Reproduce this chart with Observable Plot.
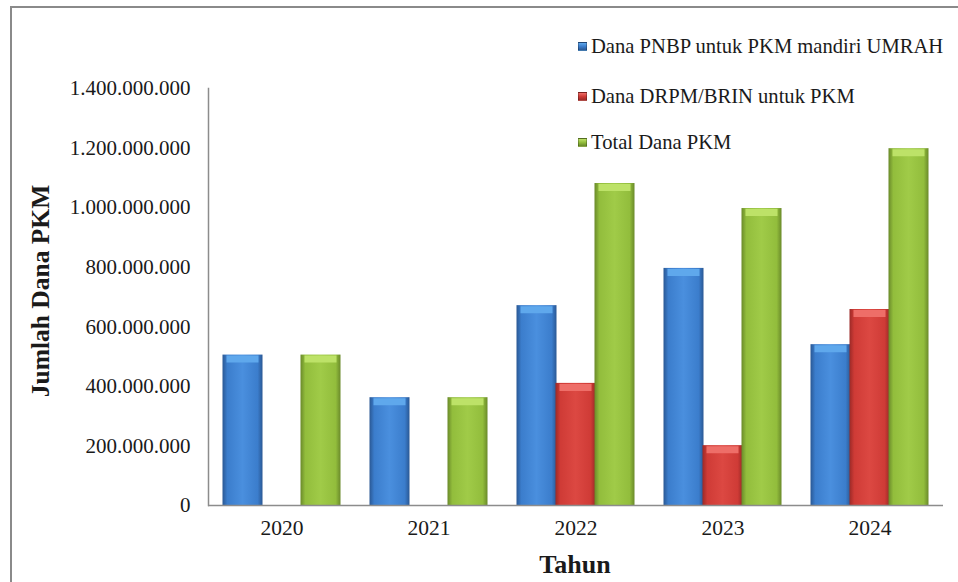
<!DOCTYPE html>
<html>
<head>
<meta charset="utf-8">
<script src="https://cdn.jsdelivr.net/npm/d3@7"></script>
<script src="https://cdn.jsdelivr.net/npm/@observablehq/plot@0.6"></script>
<style>
  html, body { margin: 0; padding: 0; background: #fff; overflow: hidden; }
  #wrap { position: relative; width: 958px; height: 582px; font-family: "Liberation Serif", "Times New Roman", serif; color: #1a1a1a; }
  #frame { position: absolute; left: 10px; top: 6px; width: 1200px; height: 1200px; border: 2px solid #8a8a8a; box-sizing: border-box; }
  #chart { position: absolute; left: 0; top: 0; }
  .legend { position: absolute; left: 578px; font-size: 20.6px; white-space: nowrap; }
  .legend .row { position: absolute; left: 0; display: flex; align-items: center; }
  .legend .sw { width: 9px; height: 9px; margin-right: 4px; border: 1px solid rgba(0,0,0,0.25); box-sizing: border-box; }
  #ytitle { position: absolute; left: 41px; top: 291px; transform: translate(-50%, -50%) rotate(-90deg); font-size: 25.5px; font-weight: bold; white-space: nowrap; }
  #xtitle { position: absolute; left: 575px; top: 565px; transform: translate(-50%, -50%); font-size: 26px; font-weight: bold; white-space: nowrap; }
</style>
</head>
<body>
<div id="wrap">
  <div id="frame"></div>
  <div id="chart"></div>
  <div class="legend" id="legend"></div>
  <div id="ytitle"></div>
  <div id="xtitle"></div>
</div>
<script>
// ---- data ----
const years = ["2020", "2021", "2022", "2023", "2024"];
const pnbp  = [505000000, 362000000, 671000000, 796000000, 540000000];
const drpm  = [0, 0, 410000000, 201000000, 658000000];
const total = [505000000, 362000000, 1081000000, 997000000, 1198000000];
const yTicks = [0, 200000000, 400000000, 600000000, 800000000, 1000000000, 1200000000, 1400000000];
const seriesNames = ["Dana PNBP untuk PKM mandiri UMRAH", "Dana DRPM/BRIN untuk PKM", "Total Dana PKM"];
const yTitle = "Jumlah Dana PKM";
const xTitle = "Tahun";

// ---- styles ----
const palette = [
  {id: "gBlue",  edge: "#2a5894", mid: "#3b7dcc", light: "#4a8fde", cap: "#5fa8ec"},
  {id: "gRed",   edge: "#9c2a27", mid: "#cf3b36", light: "#dc4842", cap: "#ee6e68"},
  {id: "gGreen", edge: "#6a8a2a", mid: "#92bd3c", light: "#a0cb48", cap: "#bde268"}
];
const offsets = [-39, 0, 39];
const barInset = 53.5;

const seriesValues = [pnbp, drpm, total];
const rows = seriesValues.map(vals =>
  years.map((y, i) => ({year: y, value: vals[i]})).filter(d => d.value > 0)
);

const fmt = d => d3.format(",")(d).replace(/,/g, ".");

const marks = [];
rows.forEach((data, s) => {
  marks.push(Plot.barY(data, {
    x: "year", y: "value", dx: offsets[s],
    insetLeft: barInset, insetRight: barInset,
    fill: `url(#${palette[s].id})`
  }));
  marks.push(Plot.tickY(data, {
    x: "year", y: "value", dx: offsets[s], dy: 4,
    insetLeft: barInset + 4, insetRight: barInset + 4,
    stroke: palette[s].cap, strokeWidth: 7
  }));
});

const chart = Plot.plot({
  width: 958,
  height: 582,
  marginLeft: 208,
  marginRight: 15,
  marginTop: 88,
  marginBottom: 77,
  style: {fontFamily: "'Liberation Serif', 'Times New Roman', serif", fontSize: "21px", color: "#1a1a1a", background: "transparent", overflow: "visible"},
  x: {domain: years, padding: 0, axis: null},
  y: {domain: [0, 1400000000], axis: null},
  marks: [
    ...marks,
    Plot.frame({anchor: "left", stroke: "#8c8c8c", strokeWidth: 1.5}),
    Plot.ruleY([0], {stroke: "#8c8c8c", strokeWidth: 1.5}),
    Plot.axisY({ticks: yTicks, tickSize: 0, tickPadding: 18, tickFormat: fmt, label: null, fontSize: 21}),
    Plot.axisX({tickSize: 0, tickPadding: 14, label: null, fontSize: 21.5})
  ]
});

// gradients
const ns = "http://www.w3.org/2000/svg";
const defs = document.createElementNS(ns, "defs");
palette.forEach(p => {
  const g = document.createElementNS(ns, "linearGradient");
  g.setAttribute("id", p.id);
  g.setAttribute("x1", "0"); g.setAttribute("x2", "1");
  g.setAttribute("y1", "0"); g.setAttribute("y2", "0");
  [[0, p.edge], [0.12, p.mid], [0.5, p.light], [0.88, p.mid], [1, p.edge]].forEach(([o, c]) => {
    const st = document.createElementNS(ns, "stop");
    st.setAttribute("offset", o);
    st.setAttribute("stop-color", c);
    g.appendChild(st);
  });
  defs.appendChild(g);
});
chart.insertBefore(defs, chart.firstChild);
document.getElementById("chart").appendChild(chart);

// legend
const legend = document.getElementById("legend");
const legendTops = [47, 97, 143];
seriesNames.forEach((name, i) => {
  const row = document.createElement("div");
  row.className = "row";
  row.style.top = (legendTops[i] - 12) + "px";
  const sw = document.createElement("span");
  sw.className = "sw";
  sw.style.background = `linear-gradient(${palette[i].cap}, ${palette[i].mid} 50%, ${palette[i].edge})`;
  const t = document.createElement("span");
  t.textContent = name;
  row.appendChild(sw);
  row.appendChild(t);
  legend.appendChild(row);
});
legend.style.top = "0px";

document.getElementById("ytitle").textContent = yTitle;
document.getElementById("xtitle").textContent = xTitle;
</script>
</body>
</html>
